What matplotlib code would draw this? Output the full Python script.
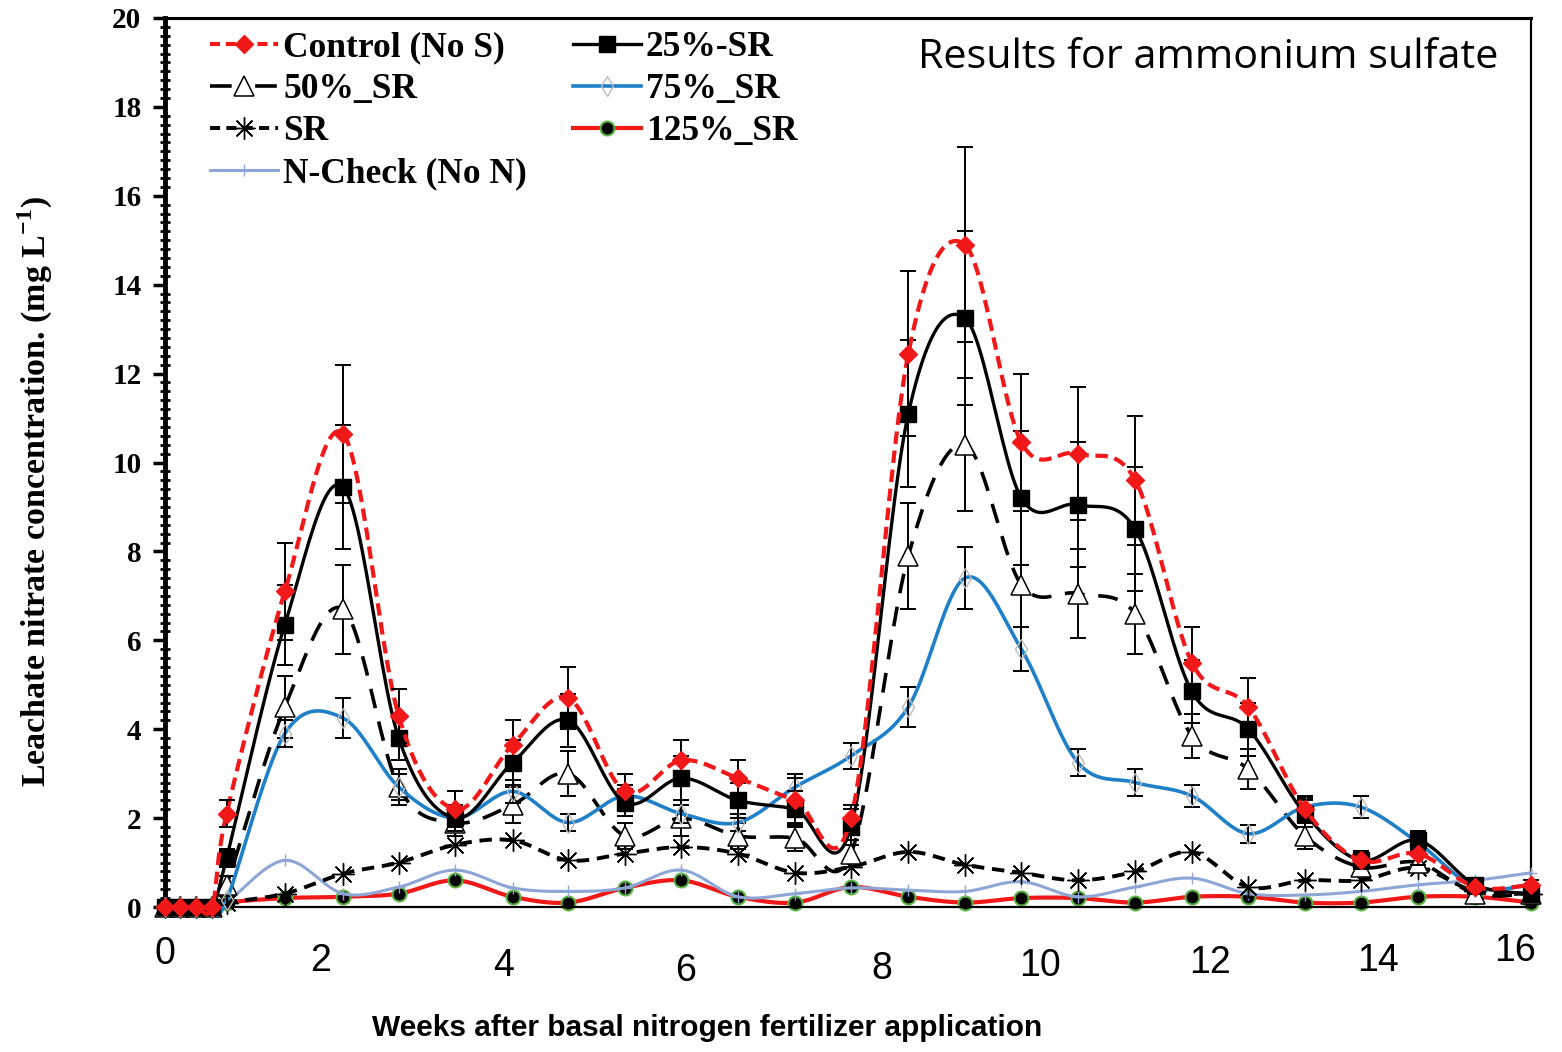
import numpy as np
import matplotlib
matplotlib.use("Agg")
import matplotlib.pyplot as plt
from matplotlib.lines import Line2D
from matplotlib.ticker import MultipleLocator
from matplotlib.transforms import blended_transform_factory

plt.rcParams["mathtext.fontset"] = "custom"
plt.rcParams["mathtext.bf"] = "Liberation Serif:bold"
plt.rcParams["mathtext.rm"] = "Liberation Serif:bold"

# ---------------- data ----------------
weeks = [0, 0.18, 0.37, 0.56, 0.73, 1.42, 2.11, 2.77, 3.44, 4.12, 4.78, 5.45, 6.12, 6.79,
         7.47, 8.13, 8.81, 9.48, 10.15, 10.82, 11.50, 12.17, 12.84, 13.51, 14.17, 14.85,
         15.53, 16.19]

control = [0, 0, 0, 0, 2.1, 7.1, 10.65, 4.3, 2.2, 3.65, 4.7, 2.6, 3.3, 2.9, 2.4, 2.0,
           12.45, 14.9, 10.45, 10.2, 9.6, 5.5, 4.5, 2.2, 1.05, 1.2, 0.45, 0.5]
control_err = [0, 0, 0, 0, 0.3, 1.1, 1.55, 0.6, 0.4, 0.55, 0.7, 0.4, 0.45, 0.4, 0.5, 0.3,
               1.85, 2.2, 1.55, 1.5, 1.45, 0.8, 0.65, 0.3, 0.2, 0.25, 0.15, 0.1]

sr25 = [0, 0, 0, 0, 1.1, 6.35, 9.45, 3.8, 2.0, 3.25, 4.2, 2.35, 2.9, 2.4, 2.2, 1.8,
        11.1, 13.25, 9.2, 9.05, 8.5, 4.85, 4.0, 2.1, 1.05, 1.5, 0.5, 0.3]
sr25_err = [0, 0, 0, 0, 0.2, 0.9, 1.4, 0.5, 0.3, 0.5, 0.6, 0.3, 0.5, 0.4, 0.4, 0.4,
            1.65, 1.95, 1.5, 1.4, 1.4, 0.7, 0.6, 0.3, 0.2, 0.2, 0.1, 0.1]

sr50 = [0, 0, 0, 0, 0.5, 4.5, 6.7, 2.7, 1.9, 2.3, 3.0, 1.6, 2.0, 1.6, 1.55, 1.2,
        7.9, 10.4, 7.25, 7.05, 6.6, 3.85, 3.1, 1.6, 0.9, 1.0, 0.3, 0.3]
sr50_err = [0, 0, 0, 0, 0.2, 0.7, 1.0, 0.4, 0.3, 0.4, 0.5, 0.3, 0.4, 0.3, 0.3, 0.3,
            1.2, 1.5, 1.95, 1.0, 0.9, 0.5, 0.45, 0.3, 0.2, 0.2, 0.1, 0.1]

sr75 = [0, 0, 0, 0, 0.15, 3.9, 4.25, 2.7, 2.0, 2.6, 1.9, 2.5, 2.1, 1.9, 2.7, 3.4,
        4.5, 7.4, 5.8, 3.25, 2.8, 2.5, 1.65, 2.25, 2.25, 1.45, 0.45, 0.5]
sr75_err = [0, 0, 0, 0, 0.1, 0.3, 0.45, 0.3, 0.2, 0.25, 0.2, 0.25, 0.2, 0.2, 0.3, 0.3,
            0.45, 0.7, 0.5, 0.3, 0.3, 0.25, 0.2, 0.2, 0.25, 0.2, 0.1, 0.1]

sr = [0, 0, 0, 0, 0.1, 0.3, 0.75, 1.0, 1.4, 1.5, 1.05, 1.2, 1.35, 1.2, 0.77, 0.9,
      1.24, 0.95, 0.77, 0.6, 0.8, 1.24, 0.45, 0.6, 0.6, 0.88, 0.35, 0.3]

sr125 = [0, 0, 0, 0, 0.1, 0.2, 0.23, 0.3, 0.6, 0.23, 0.1, 0.43, 0.6, 0.23, 0.1, 0.45,
         0.23, 0.1, 0.2, 0.2, 0.1, 0.23, 0.23, 0.1, 0.1, 0.23, 0.23, 0.1]

ncheck = [0, 0, 0, 0, 0.1, 1.05, 0.3, 0.45, 0.83, 0.43, 0.35, 0.43, 0.83, 0.23, 0.3, 0.43,
          0.38, 0.35, 0.57, 0.23, 0.45, 0.65, 0.3, 0.27, 0.35, 0.5, 0.6, 0.77]

xtick_labels = ["0", "2", "4", "6", "8", "10", "12", "14", "16"]
xtick_pos = [0.0, 1.84, 4.01, 6.17, 8.50, 10.37, 12.39, 14.38, 16.0]
xtick_y_px = [954, 961, 966, 971, 969, 966, 963, 961, 951]


# -------------- helpers --------------
def smooth(x, y, n=24):
    P = np.column_stack([x, y]).astype(float)
    E = np.vstack([P[0], P, P[-1]])
    out = []
    t = np.linspace(0, 1, n, endpoint=False)[:, None]
    for i in range(len(P) - 1):
        p0, p1, p2, p3 = E[i], E[i + 1], E[i + 2], E[i + 3]
        c1 = p1 + (p2 - p0) / 6.0
        c2 = p2 - (p3 - p1) / 6.0
        b = ((1 - t) ** 3) * p1 + 3 * ((1 - t) ** 2) * t * c1 + 3 * (1 - t) * t ** 2 * c2 + t ** 3 * p2
        out.append(b)
    out.append(P[-1][None, :])
    B = np.vstack(out)
    return B[:, 0], B[:, 1]


W, H = 1562, 1052
fig = plt.figure(figsize=(W / 100, H / 100), dpi=100)
L, R, T, B_ = 165, 1531, 18, 907
ax = fig.add_axes([L / W, 1 - B_ / H, (R - L) / W, (B_ - T) / H])
ax.set_xlim(0, 16.19)
ax.set_ylim(0, 20)

blue = "#1F80C8"
red = "#F01818"
ncol = "#8EA6D6"
green = "#58B040"

series = [
    # name, y, err, line kwargs, marker kwargs, z, legend linestyle
    ("N-Check (No N)", ncheck, None,
     dict(color=ncol, lw=2.2, ls="-"),
     dict(marker="+", ms=9, mec=ncol, mfc=ncol, mew=1.0), 3, "-"),
    ("125%_SR", sr125, None,
     dict(color=red, lw=3.0, ls="-"),
     dict(marker="o", ms=10, mec=green, mfc="black", mew=1.5), 2, "-"),
    ("SR", sr, None,
     dict(color="black", lw=2.8, ls=(0, (3.2, 2.0))),
     dict(marker=(8, 2, 0), ms=16, mec="black", mfc="black", mew=1.0), 4, (0, (2.6, 1.6))),
    ("50%_SR", sr50, sr50_err,
     dict(color="black", lw=2.6, ls=(0, (5.5, 3.8))),
     dict(marker="^", ms=14, mec="black", mfc="white", mew=1.1), 5, (0, (6.0, 6.5))),
    ("75%_SR", sr75, sr75_err,
     dict(color=blue, lw=2.6, ls="-"),
     dict(marker="d", ms=10, mec="#BBBBBB", mfc="none", mew=1.0), 6, "-"),
    ("25%-SR", sr25, sr25_err,
     dict(color="black", lw=2.4, ls="-"),
     dict(marker="s", ms=12, mec="black", mfc="black", mew=1.0), 7, "-"),
    ("Control (No S)", control, control_err,
     dict(color=red, lw=3.0, ls=(0, (3.0, 1.6))),
     dict(marker="D", ms=9.5, mec=red, mfc=red, mew=1.0), 8, (0, (2.4, 1.4))),
]

handles = {}
for name, y, err, lk, mk, z, lls in series:
    xs, ys = smooth(weeks, y)
    ax.plot(xs, ys, zorder=z, clip_on=False, **lk)
    if err is not None:
        x_e = [w for w, e in zip(weeks, err) if e > 0]
        y_e = [v for v, e in zip(y, err) if e > 0]
        e_e = [e for e in err if e > 0]
        ax.errorbar(x_e, y_e, yerr=e_e, fmt="none", ecolor="black", elinewidth=1.4,
                    capsize=5.5, capthick=1.4, zorder=z + 0.3, clip_on=False)
    ax.plot(weeks, y, ls="none", zorder=z + 0.5, clip_on=False, **mk)
    hk = dict(lk)
    hk["ls"] = lls
    handles[name] = Line2D([], [], **hk, **mk)

order = ["Control (No S)", "50%_SR", "SR", "N-Check (No N)", "25%-SR", "75%_SR", "125%_SR"]
fs_leg = 25.5
leg = fig.legend([handles[k] for k in order], order, ncol=2, loc="upper left",
                 bbox_to_anchor=(210 / W, 1 - 31 / H), frameon=False,
                 prop=dict(family="Liberation Serif", weight="bold", size=fs_leg),
                 handlelength=1.92, handletextpad=0.14, columnspacing=1.3,
                 labelspacing=0.255, borderpad=0, borderaxespad=0, numpoints=1)

# spines
ax.spines["left"].set_linewidth(3.5)
ax.spines["top"].set_linewidth(2.2)
ax.spines["right"].set_linewidth(1.6)
ax.spines["bottom"].set_linewidth(1.6)

ax.yaxis.set_major_locator(MultipleLocator(2))
ax.yaxis.set_minor_locator(MultipleLocator(0.2))
ax.tick_params(axis="y", which="major", direction="out", length=9, width=2.5, pad=8)
ax.tick_params(axis="y", which="minor", direction="inout", length=7, width=2.0)
ax.tick_params(axis="x", which="both", bottom=False, labelbottom=False)
for lab in ax.get_yticklabels():
    lab.set_fontfamily("Liberation Serif")
    lab.set_fontweight("bold")
    lab.set_fontsize(21)

# x tick labels (hand placed in the original figure)
trans = blended_transform_factory(ax.transData, fig.transFigure)
for p, lbl, py in zip(xtick_pos, xtick_labels, xtick_y_px):
    ax.text(p, 1 - py / H, lbl, transform=trans, ha="center", va="center",
            family="Liberation Sans", fontsize=27, clip_on=False)

fig.text(707 / W, 1 - 1028 / H, "Weeks after basal nitrogen fertilizer application",
         ha="center", va="center", family="Liberation Sans", weight="bold", fontsize=21.5)

fig.text(35 / W, 1 - 492 / H, "Leachate nitrate concentration. (mg L$^{\\mathbf{-1}}$)",
         rotation=90, ha="center", va="center", family="Liberation Serif",
         weight="bold", fontsize=24.5)

fig.text(918 / W, 1 - 58 / H, "Results for ammonium sulfate", ha="left", va="center",
         family="Open Sans", fontsize=29.8)

fig.savefig("out.png", dpi=100)
